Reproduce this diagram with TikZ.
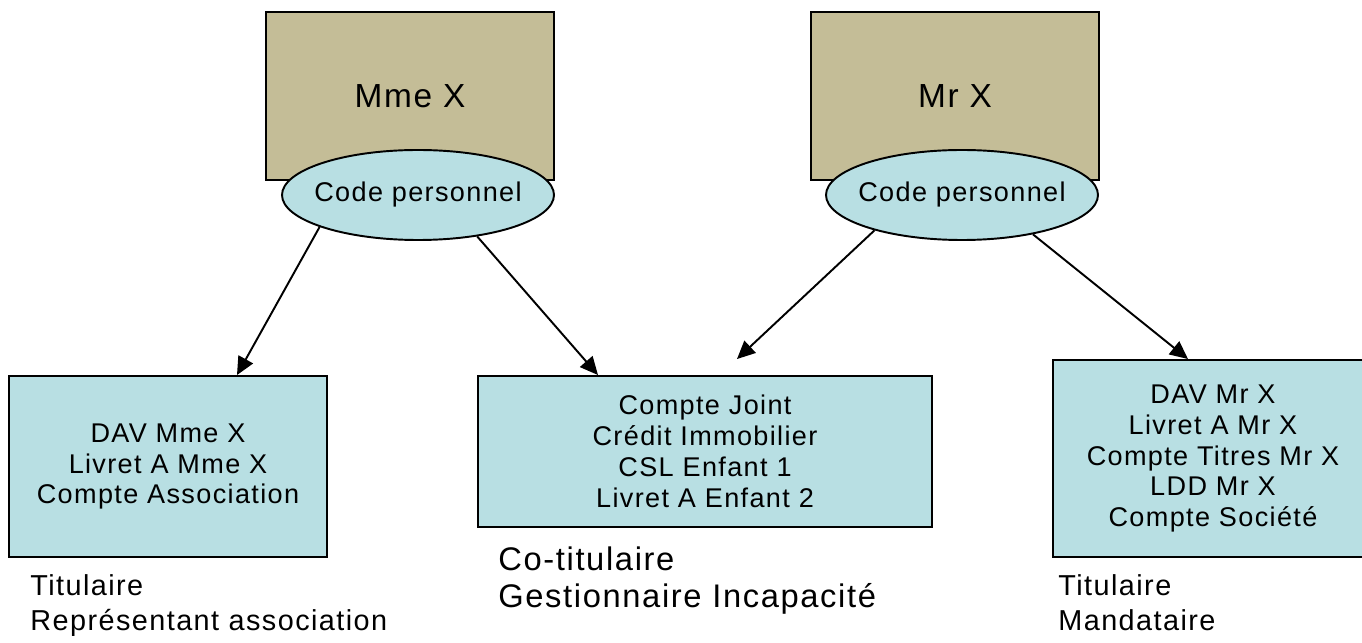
\documentclass[tikz,border=0pt]{standalone}
\usepackage{fontspec}
\setmainfont{Liberation Sans}[LetterSpace=5]
\usetikzlibrary{shapes.geometric,arrows.meta}
\definecolor{beige}{HTML}{C4BD97}
\definecolor{bleuclair}{HTML}{B8DFE3}

\begin{document}
\begin{tikzpicture}[
    every node/.style={font=\fontsize{15.4}{17.6}\selectfont},
    personne/.style={draw, fill=beige, line width=1.1pt, minimum width=5.76cm, minimum height=3.36cm, font=\fontsize{19}{22}\selectfont},
    code/.style={ellipse, draw, fill=bleuclair, line width=1.1pt, minimum width=5.44cm, minimum height=1.8cm, inner sep=0pt},
    comptes/.style={draw, fill=bleuclair, line width=1.1pt, align=center},
    role/.style={anchor=north west, inner sep=0pt, align=left, font=\fontsize{16.4}{20}\selectfont},
    fleche/.style={-{Triangle[length=0.36cm, width=0.33cm]}, line width=1.1pt}
]
\useasboundingbox (0,0) rectangle (27.24,12.84);
% Personnes
\node[personne] (mme) at (8.2,10.92) {Mme X};
\node[code, label=center:Code personnel] (codeMme) at (8.36,8.94) {};
\node[personne] (mr) at (19.1,10.92) {Mr X};
\node[code, label=center:Code personnel] (codeMr) at (19.24,8.94) {};
% Comptes
\node[comptes, minimum width=6.36cm, minimum height=3.62cm] (gauche) at (3.36,3.51) {DAV Mme X\\Livret A Mme X\\Compte Association};
\node[comptes, minimum width=9.08cm, minimum height=3.02cm] (milieu) at (14.1,3.81) {Compte Joint\\Crédit Immobilier\\CSL Enfant 1\\Livret A Enfant 2};
\node[comptes, minimum width=6.4cm, minimum height=3.94cm] (droite) at (24.26,3.67) {DAV Mr X\\Livret A Mr X\\Compte Titres Mr X\\LDD Mr X\\Compte Société};
% Roles
\node[role] (roleGauche) at (0.6,1.36) {Titulaire\\Représentant association};
\node[role, font=\fontsize{18.6}{21.5}\selectfont] (roleMilieu) at (9.96,1.92) {Co-titulaire\\Gestionnaire Incapacité};
\node[role] (roleDroite) at (21.16,1.36) {Titulaire\\Mandataire};
% Fleches
\draw[fleche] (codeMme.198) -- ([xshift=1.38cm]gauche.north);
\draw[fleche] (codeMme.-35) -- ([xshift=-2.14cm]milieu.north);
\draw[fleche] (codeMr.202) -- ([xshift=0.64cm, yshift=0.32cm]milieu.north);
\draw[fleche] (codeMr.-29) -- ([xshift=-0.5cm]droite.north);
\end{tikzpicture}
\end{document}
